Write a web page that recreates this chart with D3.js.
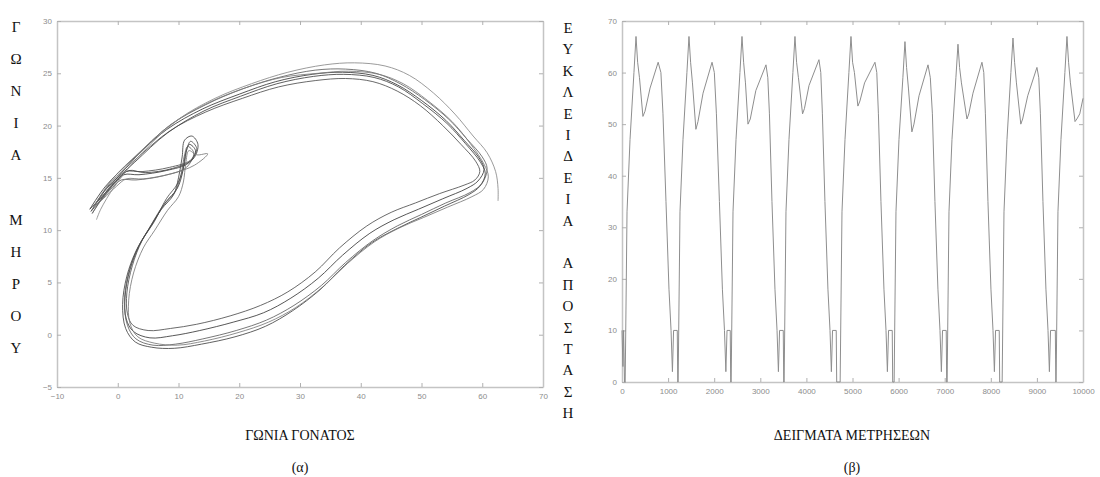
<!DOCTYPE html>
<html>
<head>
<meta charset="utf-8">
<script src="https://cdn.jsdelivr.net/npm/d3@7"></script>
<style>
  body { margin: 0; background: #fff; }
  .tick text { font-family: "Liberation Sans", Arial, sans-serif; font-size: 8px; fill: #8c8c8c; }
  .tick line { stroke: #b0b0b0; }
  .domain { stroke: #c4c4c4; stroke-width: 1.5px; }
  .title { font-family: "Liberation Serif", "Times New Roman", serif; font-size: 15px; fill: #111; }
</style>
</head>
<body>
<div id="chart"></div>
<script>
// ---- data: panel (a) knee angle vs hip angle, one array per gait cycle ----
var loop1 = [[-4.6,12.0],[-2.0,14.2],[2.5,16.8],[8.0,19.6],[14.0,21.6],[20.0,23.0],[26.0,24.2],[32.0,24.9],[37.0,25.1],[42.0,24.8],[46.0,23.9],[50.0,22.4],[54.0,20.5],[57.0,18.6],[59.5,16.9],[60.3,15.8],[59.3,14.7],[57.5,14.0],[53.5,13.0],[49.5,12.0],[45.5,11.0],[41.5,9.7],[37.0,7.6],[33.0,5.4],[28.5,3.5],[24.0,2.1],[19.0,1.2],[13.5,0.4],[9.0,-0.1],[5.3,-0.3],[2.6,0.3],[1.4,1.5],[1.2,3.6],[2.0,6.2],[3.6,8.6],[5.6,10.5],[7.8,12.6],[9.8,14.0],[10.7,15.6],[11.2,17.4],[11.8,18.2],[12.8,17.6],[11.6,16.4],[8.0,15.7],[3.5,15.3],[1.0,15.3],[-0.4,14.5],[-2.6,13.2],[-4.6,12.0]];
var loop2 = [[-4.2,11.6],[-1.5,14.0],[3.0,17.0],[8.5,20.0],[14.5,22.0],[20.5,23.5],[26.5,24.6],[32.5,25.3],[37.5,25.4],[42.5,25.0],[46.5,24.0],[50.5,22.5],[54.5,20.6],[57.5,18.7],[60.0,17.0],[60.8,15.9],[60.0,14.5],[58.0,13.6],[54.0,12.6],[50.0,11.5],[46.0,10.4],[42.0,9.0],[37.5,6.9],[33.5,4.7],[29.0,2.8],[24.5,1.4],[19.5,0.4],[14.0,-0.4],[9.5,-0.9],[5.8,-1.0],[3.0,-0.4],[1.6,0.9],[1.1,3.2],[1.8,5.9],[3.3,8.3],[5.2,10.2],[7.4,12.3],[9.4,13.6],[10.4,15.3],[11.0,17.2],[11.5,18.0],[12.5,17.4],[11.3,16.0],[7.5,15.2],[3.0,14.8],[0.6,14.8],[-0.8,14.1],[-2.8,12.8],[-4.2,11.6]];
var loop3 = [[-3.8,12.4],[-1.2,14.5],[3.2,16.9],[8.6,19.5],[14.5,21.3],[20.5,22.6],[26.5,23.7],[32.5,24.3],[37.5,24.5],[42.0,24.2],[46.0,23.3],[49.8,21.9],[53.5,20.0],[56.5,18.2],[58.9,16.6],[59.6,15.6],[58.8,14.8],[57.0,14.3],[53.0,13.5],[49.0,12.6],[45.0,11.7],[41.0,10.4],[36.5,8.3],[32.5,6.0],[28.0,4.1],[23.5,2.8],[18.5,1.8],[13.0,1.0],[8.7,0.6],[5.0,0.4],[2.5,0.9],[1.6,2.0],[1.5,4.0],[2.4,6.6],[4.0,9.0],[6.0,10.8],[8.0,13.0],[9.9,14.5],[10.9,16.2],[11.4,17.8],[12.0,18.5],[13.0,17.8],[12.0,16.7],[8.5,16.0],[4.0,15.6],[1.4,15.6],[0.0,14.9],[-2.0,13.6],[-3.8,12.4]];
var loop4 = [[-4.4,11.8],[-1.8,14.0],[2.8,16.5],[8.2,19.3],[14.2,21.4],[20.2,22.8],[26.2,24.0],[32.2,24.7],[37.2,24.9],[42.2,24.6],[46.2,23.7],[50.2,22.1],[54.2,20.2],[57.2,18.3],[59.7,16.5],[60.5,15.4],[59.6,14.2],[57.8,13.4],[53.8,12.3],[49.8,11.2],[45.8,10.1],[41.8,8.8],[37.3,6.6],[33.3,4.3],[28.8,2.3],[24.3,0.8],[19.3,-0.2],[13.8,-0.9],[9.3,-1.3],[5.6,-1.2],[2.9,-0.7],[1.3,0.6],[0.8,2.9],[1.5,5.6],[3.0,8.0],[5.0,10.0],[7.2,12.0],[9.2,13.4],[10.0,15.0],[10.6,17.0],[11.0,18.6],[12.2,19.0],[13.2,18.2],[12.4,16.8],[9.0,15.9],[4.5,15.5],[1.8,15.7],[0.2,15.0],[-2.2,13.3],[-4.4,11.8]];
var loop5 = [[-4.0,12.2],[-1.0,14.8],[3.5,17.4],[9.0,20.2],[15.0,22.2],[21.0,23.6],[27.0,24.6],[33.0,25.0],[38.0,25.2],[43.0,24.9],[47.0,24.0],[51.0,22.4],[55.0,20.4],[58.0,18.3],[60.3,16.3],[61.0,15.1],[60.2,13.9],[58.3,13.2],[54.3,12.2],[50.3,11.2],[46.3,10.2],[42.3,8.9],[37.8,6.8],[33.8,4.6],[29.3,2.6],[24.8,1.2],[19.8,0.2],[14.3,-0.6],[9.8,-1.0],[6.0,-0.8],[3.3,-0.2],[2.0,1.1],[1.8,3.3],[2.6,5.9],[4.2,8.3],[6.1,10.0],[8.2,11.9],[10.0,13.2],[10.8,14.6],[11.2,16.4],[11.7,17.6],[13.0,17.2],[14.8,17.3],[12.6,16.2],[8.8,15.4],[4.2,14.9],[1.4,14.9],[-0.2,14.2],[-2.4,13.0],[-4.0,12.2]];
var lastTrace = [[-3.5,11.0],[-2.8,12.0],[-0.5,14.2],[4.0,17.4],[10.0,20.6],[16.0,22.6],[22.0,24.0],[28.0,25.1],[34.0,25.8],[39.0,26.0],[44.0,25.7],[48.0,24.8],[52.0,23.1],[55.5,21.1],[58.5,19.0],[60.8,17.4],[62.2,15.6],[62.6,14.0],[62.6,12.8]];
var kneeTicks = [-10, 0, 10, 20, 30, 40, 50, 60, 70];
var hipTicks = [-5, 0, 5, 10, 15, 20, 25, 30];

// ---- data: panel (b) euclidean distance vs sample index ----
var distSeries = [[0,10],[20,3],[35,10],[55,0],
  [69,0],[109,33],[174,47],[259,60],[304,67],[339,62],[379,59],[454,51.5],[499,52.5],[609,57],[784,62],[844,60],[889,52],[954,35],[1019,18],[1064,10],[1094,2],[1119,10],[1199,10],[1209,0],
  [1218,0],[1258,33],[1323,47],[1408,60],[1453,67],[1488,62],[1528,58],[1603,49],[1648,50.5],[1758,56],[1953,62],[2003,60],[2048,52],[2113,35],[2178,18],[2223,10],[2253,2],[2278,10],[2348,10],[2358,0],
  [2368,0],[2408,33],[2473,47],[2558,60],[2603,67],[2638,62],[2678,58],[2733,50],[2783,51],[2903,56.5],[3123,61.5],[3163,59],[3198,52],[3253,35],[3318,18],[3363,10],[3393,2],[3418,10],[3498,10],[3508,0],
  [3517,0],[3557,33],[3622,47],[3707,60],[3752,67],[3787,62],[3827,59],[3917,52],[3957,53],[4057,57.5],[4272,62.5],[4312,60],[4347,52],[4402,35],[4467,18],[4512,10],[4542,2],[4567,10],[4647,10],[4657,0],
  [4732,0],[4772,33],[4837,47],[4922,60],[4967,67],[5002,62],[5042,60],[5117,53.5],[5162,54.5],[5262,58],[5487,62],[5527,60],[5562,52],[5617,35],[5682,18],[5727,10],[5757,2],[5782,10],[5862,10],[5872,0],
  [5903,0],[5943,33],[6008,47],[6093,59],[6138,66],[6173,61],[6213,57],[6288,48.5],[6333,50],[6443,55.5],[6638,61.5],[6688,59],[6733,52],[6788,35],[6853,18],[6898,10],[6928,2],[6953,10],[7033,10],[7043,0],
  [7053,0],[7093,33],[7158,47],[7243,59],[7288,65.5],[7323,61],[7363,58],[7483,51],[7523,52],[7613,56],[7808,62],[7848,60],[7883,52],[7938,35],[8003,18],[8048,10],[8078,2],[8103,10],[8183,10],[8193,0],
  [8246,0],[8286,33],[8351,47],[8436,60],[8481,66.7],[8516,62],[8556,58],[8651,50],[8691,51],[8801,55.5],[9001,61],[9041,59],[9076,52],[9131,35],[9196,18],[9241,10],[9271,2],[9296,10],[9400,10],[9410,0],
  [9417,0],[9457,33],[9522,47],[9607,60],[9652,67],[9687,62],[9727,58],[9827,50.5],[9867,51],[9930,52],[10000,55]];
var sampleTicks = [0, 1000, 2000, 3000, 4000, 5000, 6000, 7000, 8000, 9000, 10000];
var distTicks = [0, 10, 20, 30, 40, 50, 60, 70];

var leftTitle = "ΓΩΝΙΑ ΜΗΡΟΥ";
var rightTitle = "ΕΥΚΛΕΙΔΕΙΑ ΑΠΟΣΤΑΣΗ";

var svgWidth = 1100;
var svgHeight = 477;

var svg = d3.select("#chart")
  .append("svg")
  .attr("width", svgWidth)
  .attr("height", svgHeight);

// draws a matlab style box with inward ticks on all four sides
function drawBox(g, x, y, xTicks, yTicks, w, h) {
  g.append("g")
    .attr("transform", `translate(0, ${h})`)
    .call(d3.axisBottom(x).tickValues(xTicks).tickSizeInner(-4).tickSizeOuter(0).tickPadding(6).tickFormat(d3.format("d")));
  g.append("g")
    .call(d3.axisTop(x).tickValues(xTicks).tickSizeInner(-4).tickSizeOuter(0).tickFormat(""));
  g.append("g")
    .call(d3.axisLeft(y).tickValues(yTicks).tickSizeInner(-4).tickSizeOuter(0).tickPadding(5).tickFormat(d3.format("d")));
  g.append("g")
    .attr("transform", `translate(${w}, 0)`)
    .call(d3.axisRight(y).tickValues(yTicks).tickSizeInner(-4).tickSizeOuter(0).tickFormat(""));
}

// ---------------- panel (a) ----------------
var marginA = { left: 57, top: 21 };
var widthA = 486;
var heightA = 366;

var chartA = svg.append("g")
  .attr("transform", `translate(${marginA.left}, ${marginA.top})`);

var xKnee = d3.scaleLinear().domain([-10, 70]).range([0, widthA]);
var yHip = d3.scaleLinear().domain([-5, 30]).range([heightA, 0]);

drawBox(chartA, xKnee, yHip, kneeTicks, hipTicks, widthA, heightA);

var loopLine = d3.line()
  .x(d => xKnee(d[0]))
  .y(d => yHip(d[1]))
  .curve(d3.curveCatmullRom.alpha(0.5));

var loops = [loop1, loop2, loop3, loop4, loop5, lastTrace];
var loopGreys = ["#3a3a3a", "#606060", "#505050", "#444444", "#7a7a7a", "#8a8a8a"];

chartA.selectAll(".loop")
  .data(loops)
  .enter()
  .append("path")
  .attr("class", "loop")
  .attr("d", d => loopLine(d))
  .attr("fill", "none")
  .attr("stroke", (d, i) => loopGreys[i])
  .attr("stroke-width", 1)
  .attr("opacity", 0.85);

// ---------------- panel (b) ----------------
var marginB = { left: 622, top: 21 };
var widthB = 461;
var heightB = 361;

var chartB = svg.append("g")
  .attr("transform", `translate(${marginB.left}, ${marginB.top})`);

var xSample = d3.scaleLinear().domain([0, 10000]).range([0, widthB]);
var yDist = d3.scaleLinear().domain([0, 70]).range([heightB, 0]);

drawBox(chartB, xSample, yDist, sampleTicks, distTicks, widthB, heightB);

chartB.append("path")
  .datum(distSeries)
  .attr("fill", "none")
  .attr("stroke", "#8e8e8e")
  .attr("stroke-width", 1)
  .attr("d", d3.line().x(d => xSample(d[0])).y(d => yDist(d[1])));

// ---------------- titles ----------------
// vertical titles, one letter per line
svg.selectAll(".ltitle")
  .data(Array.from(leftTitle))
  .enter()
  .append("text")
  .attr("class", "title")
  .attr("x", 16)
  .attr("y", (d, i) => 32 + i * 32.1)
  .attr("text-anchor", "middle")
  .text(d => d);

svg.selectAll(".rtitle")
  .data(Array.from(rightTitle))
  .enter()
  .append("text")
  .attr("class", "title")
  .attr("x", 568)
  .attr("y", (d, i) => 33 + i * 21.4)
  .attr("text-anchor", "middle")
  .text(d => d);

svg.append("text").attr("class", "title")
  .attr("x", 300).attr("y", 440).attr("text-anchor", "middle")
  .style("font-size", "14px")
  .text("ΓΩΝΙΑ ΓΟΝΑΤΟΣ");

svg.append("text").attr("class", "title")
  .attr("x", 300).attr("y", 472).attr("text-anchor", "middle")
  .style("font-size", "14px")
  .text("(α)");

svg.append("text").attr("class", "title")
  .attr("x", 852).attr("y", 440).attr("text-anchor", "middle")
  .style("font-size", "14px")
  .text("ΔΕΙΓΜΑΤΑ ΜΕΤΡΗΣΕΩΝ");

svg.append("text").attr("class", "title")
  .attr("x", 852).attr("y", 472).attr("text-anchor", "middle")
  .style("font-size", "14px")
  .text("(β)");
</script>
</body>
</html>
